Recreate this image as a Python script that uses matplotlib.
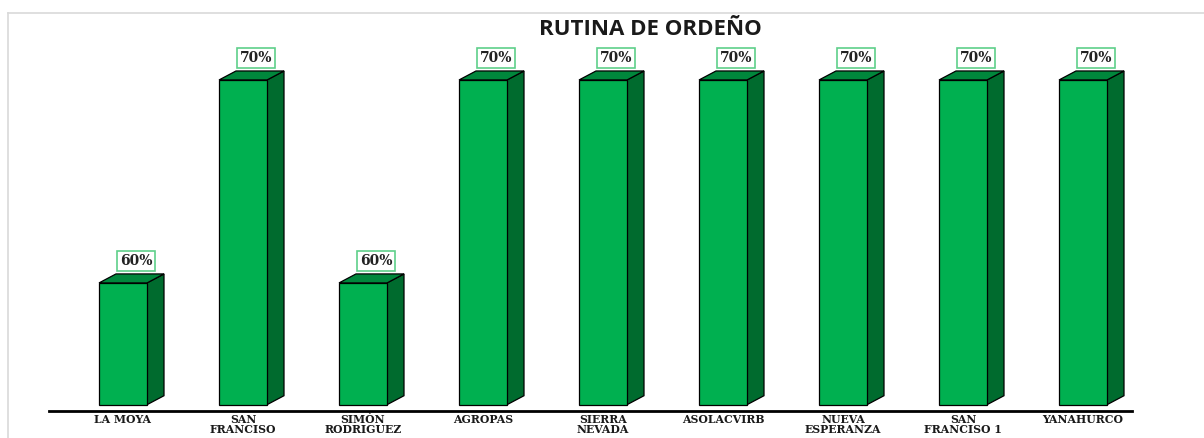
import matplotlib
matplotlib.use("Agg")
import matplotlib.pyplot as plt
from matplotlib.patches import Polygon
from matplotlib.lines import Line2D

# ---- data ----
categories = ["LA MOYA", "SAN\nFRANCISO", "SIMÒN\nRODRIGUEZ", "AGROPAS",
              "SIERRA\nNEVADA", "ASOLACVIRB", "NUEVA\nESPERANZA",
              "SAN\nFRANCISO 1", "YANAHURCO"]
values = [60, 70, 60, 70, 70, 70, 70, 70, 70]
value_labels = ["60%", "70%", "60%", "70%", "70%", "70%", "70%", "70%", "70%"]
title = "RUTINA DE ORDEÑO"

# ---- style ----
FRONT = "#00B050"
TOP = "#00873C"
SIDE = "#006B2E"
BASE = 54.0
W_PX, H_PX = 1204, 438
DEPTH_PX = (17, 9)

fig = plt.figure(figsize=(W_PX / 100, H_PX / 100), dpi=100)
fig.patch.set_facecolor("white")

# light grey chart-area border (top + left)
fig.add_artist(Line2D([8 / W_PX, 1.0], [1 - 13 / H_PX, 1 - 13 / H_PX],
                      transform=fig.transFigure, color="#d9d9d9", lw=1.2))
fig.add_artist(Line2D([8 / W_PX, 8 / W_PX], [0, 1 - 13 / H_PX],
                      transform=fig.transFigure, color="#d9d9d9", lw=1.2))

ax_left, ax_right = 49, 1132
ax_bot, ax_top = 411, 13
ax = fig.add_axes([ax_left / W_PX, 1 - ax_bot / H_PX,
                   (ax_right - ax_left) / W_PX, (ax_bot - ax_top) / H_PX])
ax.set_xlim((ax_left - 123) / 120, (ax_right - 123) / 120)
ax.set_ylim(53.69, 73.3)

x = list(range(len(categories)))
bw = 0.4
bars = ax.bar(x, [v - BASE for v in values], bottom=BASE, width=bw,
              color=FRONT, edgecolor="black", linewidth=0.9, zorder=3)

# convert depth in pixels to data units
fig.canvas.draw()
inv = ax.transData.inverted()
p0 = inv.transform((0, 0))
p1 = inv.transform(DEPTH_PX)
ddx, ddy = p1[0] - p0[0], p1[1] - p0[1]

for xi, v in zip(x, values):
    l, r = xi - bw / 2, xi + bw / 2
    top = [(l, v), (r, v), (r + ddx, v + ddy), (l + ddx, v + ddy)]
    side = [(r, BASE), (r + ddx, BASE + ddy), (r + ddx, v + ddy), (r, v)]
    ax.add_patch(Polygon(side, closed=True, facecolor=SIDE, edgecolor="black",
                         linewidth=0.9, zorder=2))
    ax.add_patch(Polygon(top, closed=True, facecolor=TOP, edgecolor="black",
                         linewidth=0.9, zorder=2))

for xi, v, lab in zip(x, values, value_labels):
    ax.annotate(lab, xy=(xi, v), xytext=(13, 22), textcoords="offset pixels",
                ha="center", va="center", fontsize=10, fontweight="bold",
                family="DejaVu Serif", color="#222222",
                bbox=dict(boxstyle="square,pad=0.2", facecolor="white",
                          edgecolor="#5fcf8a", linewidth=1.2),
                zorder=5)

ax.set_xticks(x)
ax.set_xticklabels(categories, fontsize=7.8, fontweight="bold",
                   family="DejaVu Serif", linespacing=0.95, color="#1a1a1a")
ax.tick_params(axis="x", length=0, pad=2)
ax.set_yticks([])
for s in ["top", "right", "left"]:
    ax.spines[s].set_visible(False)
ax.spines["bottom"].set_linewidth(2)
ax.spines["bottom"].set_color("black")
ax.patch.set_alpha(0)

fig.text(650 / W_PX, 1 - 29.5 / H_PX, title, ha="center", va="center",
         fontsize=16, fontweight="bold", family="Open Sans",
         color="#1a1a1a")

fig.savefig("out.png", dpi=100)
